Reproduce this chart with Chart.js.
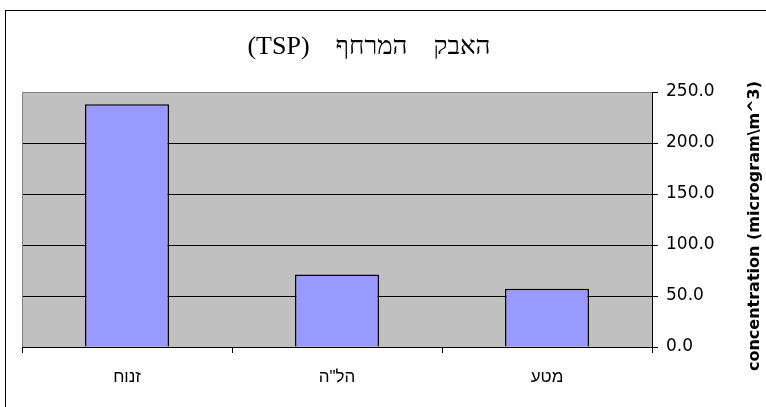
<!DOCTYPE html>
<html>
<head>
<meta charset="utf-8">
<script src="https://cdn.jsdelivr.net/npm/chart.js@4.4.0/dist/chart.umd.min.js"></script>
<style>
  html, body { margin: 0; padding: 0; background: #ffffff; }
  #wrap { width: 766px; height: 407px; }
</style>
</head>
<body>
<div id="wrap"><canvas id="c" width="766" height="407"></canvas></div>
<script>
// Suspended dust (TSP) concentration per site
const categories = ['זנוח', 'הל"ה', 'מטע'];
const tspValues = [238, 71, 57];
const yMin = 0;
const yMax = 250;
const yStep = 50;
const chartTitle = 'האבק    המרחף    (TSP)';
const yTitle = 'concentration (microgram\\m^3)';

// Frame, plot background, plot border, title and rotated axis title
const decorations = {
  id: 'decorations',
  beforeDraw(chart) {
    const { ctx, chartArea: a } = chart;
    ctx.save();
    ctx.fillStyle = '#ffffff';
    ctx.fillRect(0, 0, chart.width, chart.height);
    ctx.strokeStyle = '#000000';
    ctx.lineWidth = 1;
    ctx.strokeRect(5.5, 10.5, chart.width + 20, chart.height + 20);
    ctx.fillStyle = '#c0c0c0';
    ctx.fillRect(a.left, a.top, a.right - a.left, a.bottom - a.top);
    ctx.restore();
  },
  afterDraw(chart) {
    const { ctx, chartArea: a } = chart;
    ctx.save();
    ctx.strokeStyle = '#808080';
    ctx.lineWidth = 1;
    ctx.beginPath();
    ctx.moveTo(a.left + 0.5, a.bottom);
    ctx.lineTo(a.left + 0.5, a.top + 0.5);
    ctx.lineTo(a.right, a.top + 0.5);
    ctx.stroke();

    ctx.fillStyle = '#000000';
    ctx.font = '26px "Liberation Serif", "DejaVu Serif", serif';
    ctx.direction = 'rtl';
    ctx.textAlign = 'center';
    ctx.textBaseline = 'middle';
    ctx.fillText(chartTitle, 369, 47);

    ctx.direction = 'ltr';
    ctx.font = 'bold 16px "DejaVu Sans", sans-serif';
    ctx.translate(755, 226);
    ctx.rotate(-Math.PI / 2);
    ctx.fillText(yTitle, 0, 0);
    ctx.restore();
  }
};

new Chart(document.getElementById('c'), {
  type: 'bar',
  data: {
    labels: categories,
    datasets: [{
      data: tspValues,
      backgroundColor: '#9999ff',
      borderColor: '#000000',
      borderWidth: 1.5,
      barPercentage: 0.4,
      categoryPercentage: 1.0
    }]
  },
  options: {
    responsive: false,
    animation: false,
    devicePixelRatio: 1,
    layout: { padding: { left: 22, top: 92, right: 0, bottom: 0 } },
    plugins: {
      legend: { display: false },
      title: { display: false },
      tooltip: { enabled: false }
    },
    scales: {
      x: {
        offset: true,
        grid: {
          offset: true,
          drawOnChartArea: false,
          drawTicks: true,
          tickLength: 6,
          color: '#000000'
        },
        border: { display: true, color: '#000000', width: 1 },
        ticks: {
          color: '#000000',
          padding: 14,
          font: { family: '"Liberation Sans", Arial, sans-serif', size: 17 }
        },
        afterFit(scale) { scale.height = 60; }
      },
      y: {
        position: 'right',
        min: yMin,
        max: yMax,
        grid: {
          color: (c) => (c.tick && c.tick.value === yMax ? 'rgba(0,0,0,0)' : '#000000'),
          tickColor: '#000000',
          tickLength: 6,
          lineWidth: 1
        },
        border: { display: true, color: '#000000', width: 1 },
        ticks: {
          stepSize: yStep,
          color: '#000000',
          padding: 8,
          font: { family: '"DejaVu Sans", sans-serif', size: 17 },
          callback: (v) => Number(v).toFixed(1)
        },
        afterFit(scale) { scale.width = 114; }
      }
    }
  },
  plugins: [decorations]
});
</script>
</body>
</html>
